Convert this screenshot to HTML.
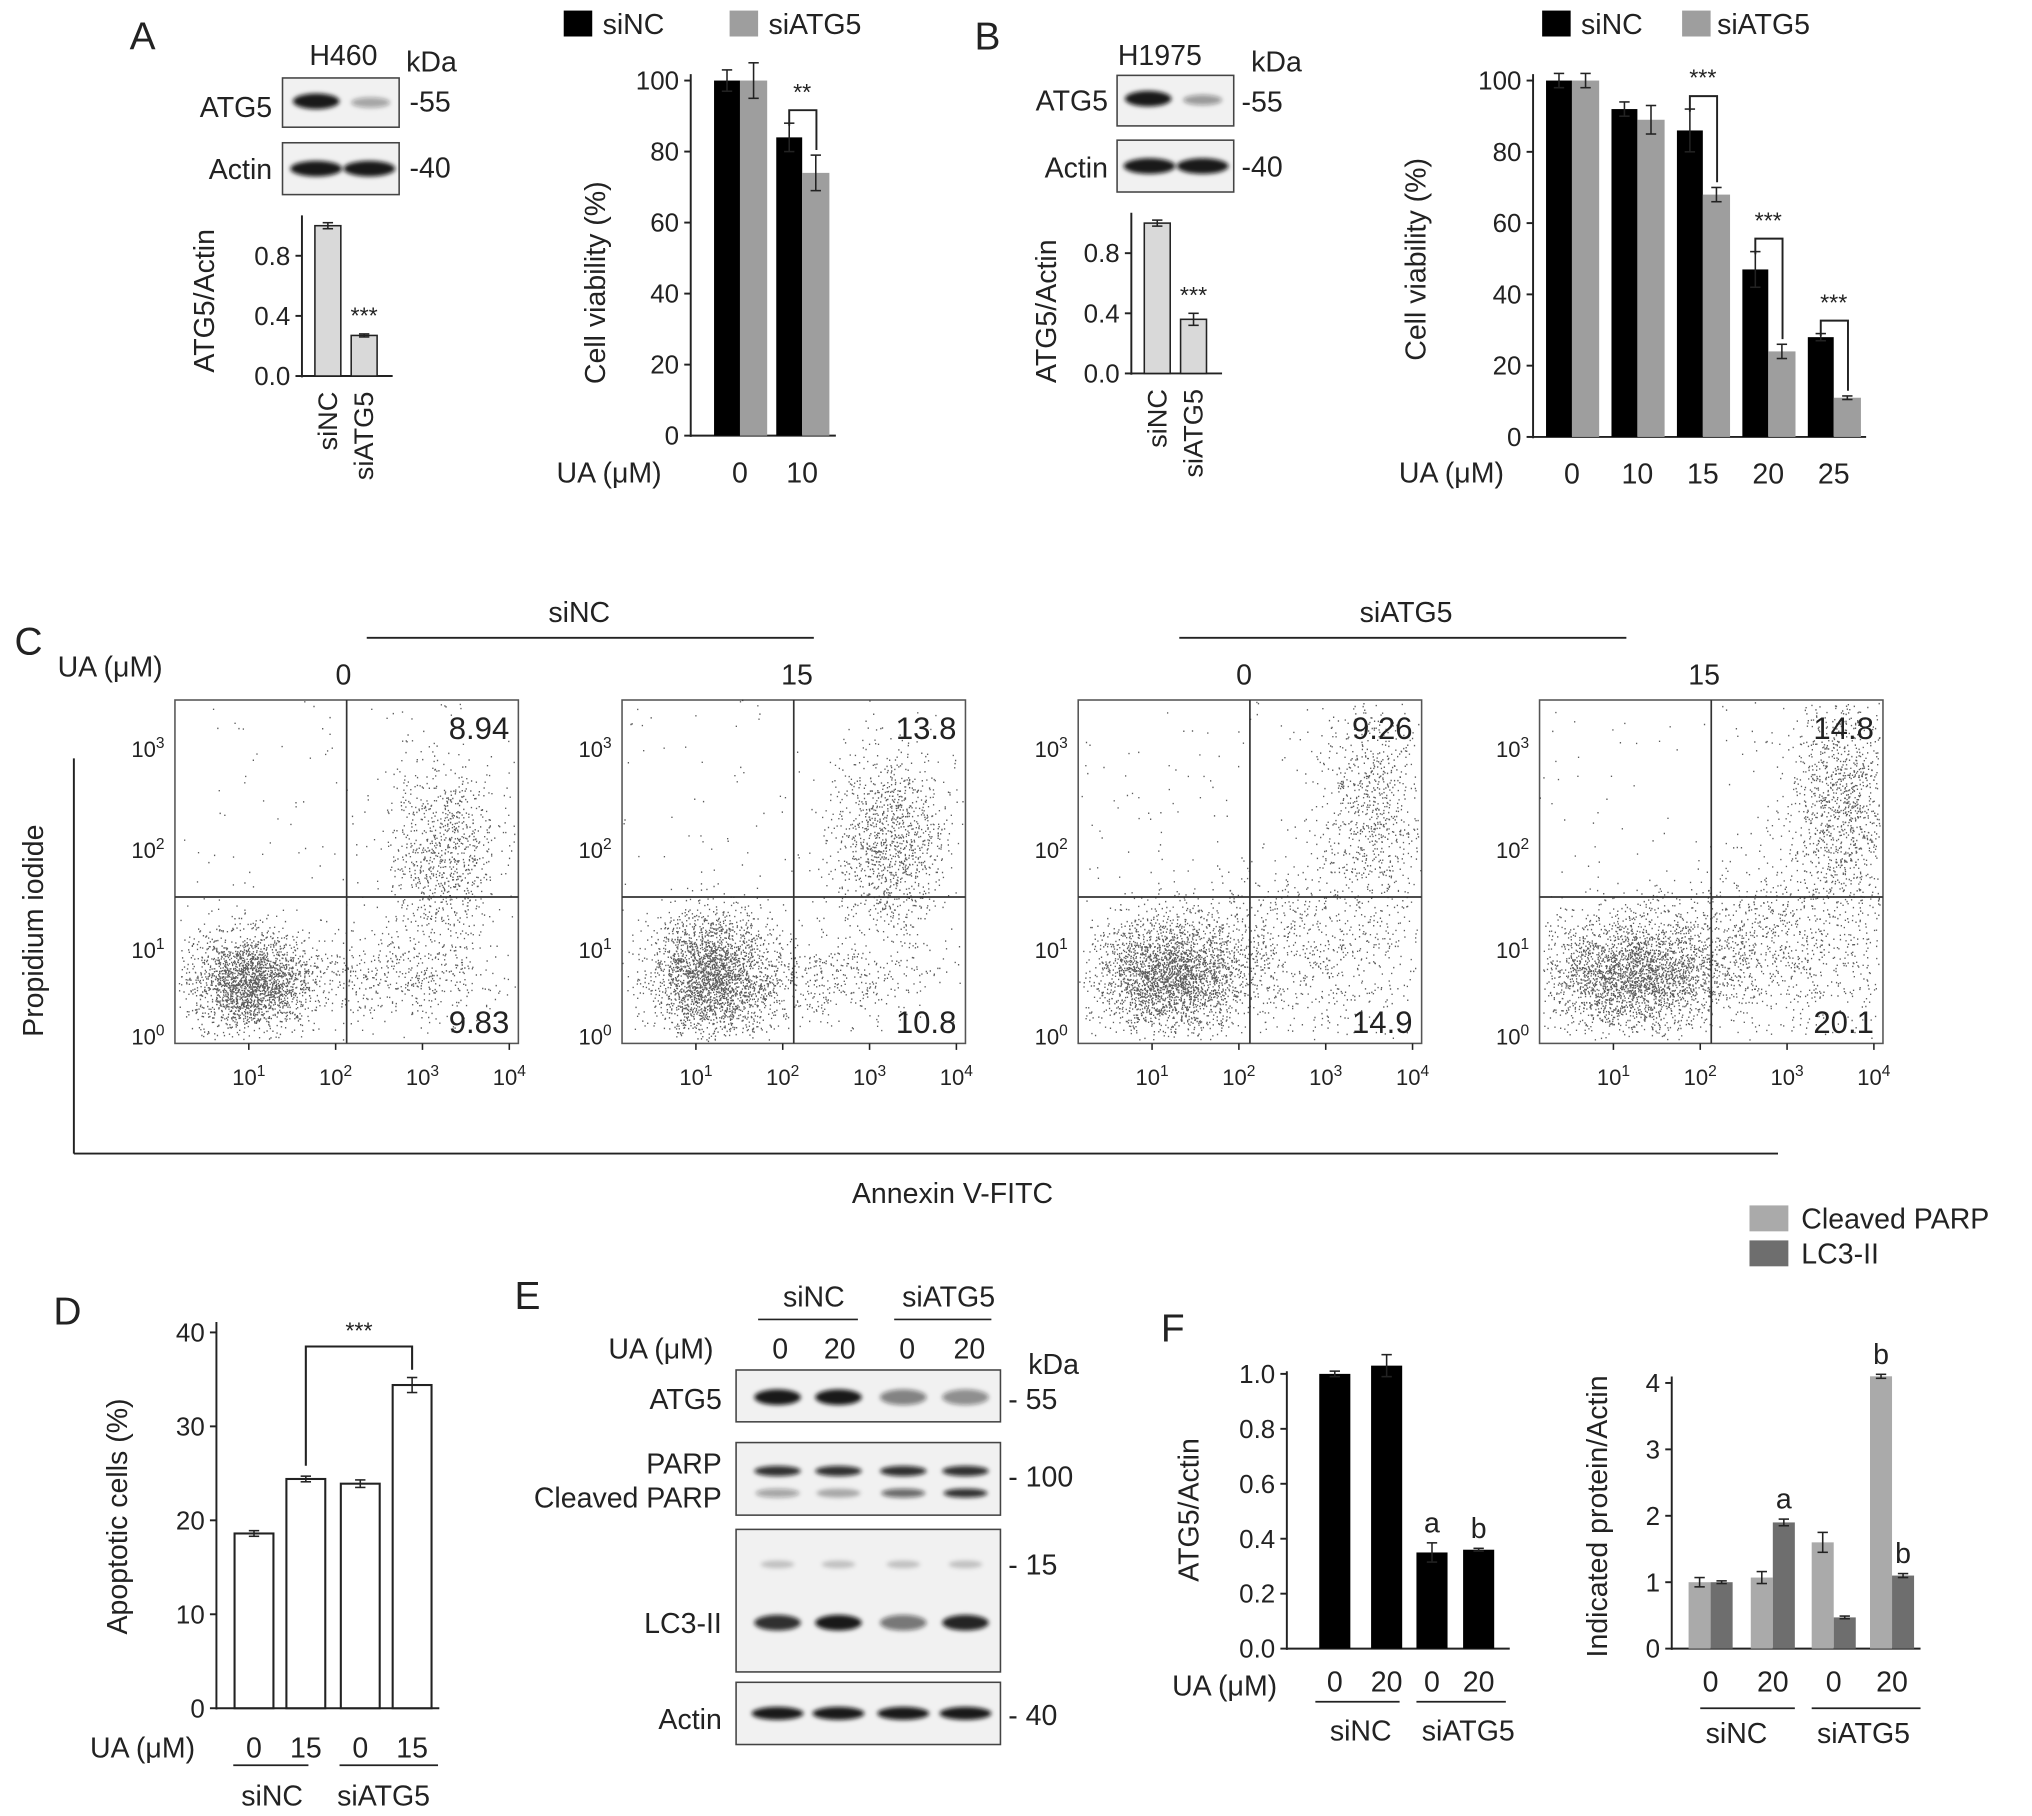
<!DOCTYPE html>
<html><head><meta charset="utf-8">
<style>
html,body{margin:0;padding:0;background:#fff;}
svg{display:block;font-family:"Liberation Sans",sans-serif;}
text{fill:#222;}
</style></head>
<body>
<svg id="fig" width="2032" height="1816" viewBox="0 0 1568 1401" xmlns="http://www.w3.org/2000/svg">
<defs><filter id="blur" x="-20%" y="-50%" width="140%" height="200%"><feGaussianBlur stdDeviation="1.6"/></filter></defs>
<g id="root"></g>
</svg>
<script>
// ---------- data ----------
const smallCats = ["siNC","siATG5"];
const smallA = [1.0, 0.27];
const smallAErr = [0.02, 0.01];
const smallB = [1.0, 0.36];
const smallBErr = [0.02, 0.04];

const vaDoses = ["0","10"];
const vaNC = [100, 84];
const vaNCErr = [3, 4];
const vaSi = [100, 74];
const vaSiErr = [5, 5];

const vbDoses = ["0","10","15","20","25"];
const vbNC = [100, 92, 86, 47, 28];
const vbNCErr = [2, 2, 6, 5, 1];
const vbSi = [100, 89, 68, 24, 11];
const vbSiErr = [2, 4, 2, 2, 0.5];

const dCats = ["0","15","0","15"];
const dVals = [18.6, 24.4, 23.9, 34.4];
const dErr = [0.3, 0.3, 0.4, 0.8];

const fCats = ["0","20","0","20"];
const fVals = [1.0, 1.03, 0.35, 0.36];
const fErr = [0.01, 0.04, 0.035, 0.005];
const fLetters = ["", "", "a", "b"];

const f2Parp = [1.0, 1.07, 1.6, 4.1];
const f2ParpErr = [0.07, 0.09, 0.15, 0.03];
const f2Lc3 = [1.0, 1.9, 0.47, 1.1];
const f2Lc3Err = [0.02, 0.05, 0.02, 0.03];
const f2ParpLetters = ["", "", "", "b"];
const f2Lc3Letters = ["", "a", "", "b"];

const flowUR = ["8.94","13.8","9.26","14.8"];
const flowLR = ["9.83","10.8","14.9","20.1"];
const flowDose = ["0","15","0","15"];
// cluster descriptors per plot (fractional coords within plot: cx, cy, sx, sy, count)
const flowLive = [[0.22,0.82,0.09,0.07,1700],[0.26,0.80,0.09,0.09,1900],[0.27,0.80,0.11,0.08,2000],[0.27,0.80,0.13,0.08,2000]];
const flowLate = [[0.78,0.45,0.08,0.14,700],[0.78,0.42,0.08,0.14,900],[0.85,0.32,0.08,0.16,600],[0.88,0.30,0.08,0.16,900]];
const flowEarly = [[0.65,0.80,0.15,0.07,350],[0.55,0.82,0.18,0.06,350],[0.60,0.72,0.22,0.12,700],[0.65,0.72,0.22,0.12,900]];

// ---------- helpers ----------
const NS="http://www.w3.org/2000/svg";
const root=document.getElementById('root');
function el(tag, attrs, parent){
  const e=document.createElementNS(NS,tag);
  for(const k in attrs) e.setAttribute(k,attrs[k]);
  (parent||root).appendChild(e); return e;
}
function txt(x,y,s,size,anchor,parent,rot){
  const t=el('text',{x:x,y:y,'font-size':size||20,'text-anchor':anchor||'middle'},parent);
  if(rot) t.setAttribute('transform',`rotate(${rot} ${x} ${y})`);
  t.textContent=s; return t;
}
function line(x1,y1,x2,y2,w,parent,c){return el('line',{x1,y1,x2,y2,stroke:c||'#222','stroke-width':w||1.5},parent);}
function errbar(x,y1,y2,parent){
  line(x,y1,x,y2,1.2,parent); line(x-4,y1,x+4,y1,1.2,parent); line(x-4,y2,x+4,y2,1.2,parent);
}
function yAxis(g,x,yScale,ticks,fmt,top){
  line(x,yScale(ticks[0])+1,x,top,1.5,g);
  ticks.forEach(t=>{const y=yScale(t);line(x-5,y,x,y,1.5,g);
    const tl=txt(x-9,y+7,fmt(t),20,'end',g);
    
    });
}
function label(x,y,s,size,anchor,name,rot){
  const t=txt(x,y,s,size,anchor,root,rot);
  
  
  return t;
}
function group(name){const g=el('g',{});return g;}

function blot(name,x,y,w,h,bands){
  const g=group(name);
  el('rect',{x,y,width:w,height:h,fill:'#f1f1f1',stroke:'#444','stroke-width':1.2},g);
  bands.forEach(b=>{
    el('ellipse',{cx:b[0],cy:b[1],rx:b[2],ry:b[3],fill:'#111','fill-opacity':b[4],filter:'url(#blur)'},g);
  });
  return g;
}

// ---------- Panel A ----------
label(110,38,'A',30,'middle','panel-label-a');
label(265,50,'H460',22,'middle','cell-line-h460');
label(333,55,'kDa',22,'middle','kda-label-a');
blot('blot-atg5-a',218,60,90,38,[[244,78,18,6,0.95],[286,79,15,4,0.35]]);
blot('blot-actin-a',218,110,90,40,[[244,130,20,6,0.95],[285,130,20,6,0.95]]);
label(210,90,'ATG5',22,'end','row-label-atg5-a');
label(210,138,'Actin',22,'end','row-label-actin-a');
label(316,86,'-55',22,'start','marker-55-a');
label(316,137,'-40',22,'start','marker-40-a');

function smallChart(name,ax,y0,vals,errs,star){
  const g=group(name);
  const ys=v=>y0-v*116;
  yAxis(g,ax,ys,[0,0.4,0.8],t=>t.toFixed(1),y0-124);
  line(ax,y0,ax+70,y0,1.5,g);
  vals.forEach((v,i)=>{
    const x=ax+10+i*28;
    const r=el('rect',{x,y:ys(v),width:20,height:y0-ys(v),fill:'#d9d9d9',stroke:'#222','stroke-width':1.2},g);
    
    
    errbar(x+10,ys(v+errs[i]),ys(v-errs[i]),g);
    const t=txt(x+17,y0+12,smallCats[i],21,'end',g,-90);
    
    
  });
  txt(ax+10+28+10,ys(vals[1]+errs[1])-8,star,18,'middle',g);
  return g;
}
smallChart('chart-atg5-actin-a',233,290,smallA,smallAErr,'***');
label(165,232,'ATG5/Actin',22,'middle','y-axis-title-small-a',-90);

function viab(name,ax,top,y0,w,doses,centers,nc,ncE,si,siE,brackets){
  const g=group(name);
  const ys=v=>y0-v*(y0-top)/100;
  yAxis(g,ax,ys,[0,20,40,60,80,100],t=>String(t),top-5);
  line(ax,y0,ax+w,y0,1.5,g);
  doses.forEach((d,i)=>{
    const c=centers(i);
    const b1=el('rect',{x:c-20,y:ys(nc[i]),width:20,height:y0-ys(nc[i]),fill:'#000'},g);
    
    const b2=el('rect',{x:c,y:ys(si[i]),width:21,height:y0-ys(si[i]),fill:'#9e9e9e'},g);
    
    errbar(c-10,ys(nc[i]+ncE[i]),ys(nc[i]-ncE[i]),g);
    errbar(c+10.5,ys(si[i]+siE[i]),ys(si[i]-siE[i]),g);
    const t=txt(c,y0+36,d,22,'middle',g);
    
    if(brackets[i]){
      const yt=ys(nc[i]+ncE[i])-6;
      const yb=ys(si[i]+siE[i])-4;
      el('polyline',{points:`${c-10},${yt+8} ${c-10},${yt-4} ${c+11},${yt-4} ${c+11},${yb}`,fill:'none',stroke:'#222','stroke-width':1.5},g);
      txt(c,yt-12,brackets[i],18,'middle',g);
    }
  });
  return g;
}
viab('chart-viability-a',533,62,336,112,vaDoses,i=>571+i*48,vaNC,vaNCErr,vaSi,vaSiErr,['','**']);
label(467,218,'Cell viability (%)',22,'middle','y-axis-title-viability-a',-90);
label(470,372,'UA (μM)',22,'middle','x-axis-title-ua-a');
el('rect',{x:435,y:8,width:22,height:20,fill:'#000'});
label(465,26,'siNC',22,'start','legend-sinc-a');
el('rect',{x:563,y:8,width:22,height:20,fill:'#9e9e9e'});
label(593,26,'siATG5',22,'start','legend-siatg5-a');

// ---------- Panel B ----------
label(762,38,'B',30,'middle','panel-label-b');
label(895,50,'H1975',22,'middle','cell-line-h1975');
label(985,55,'kDa',22,'middle','kda-label-b');
blot('blot-atg5-b',862,58,90,39,[[886,76,18,6,0.95],[928,77,15,4,0.4]]);
blot('blot-actin-b',862,108,90,40,[[887,128,20,6,0.95],[928,128,20,6,0.95]]);
label(855,85,'ATG5',22,'end','row-label-atg5-b');
label(855,137,'Actin',22,'end','row-label-actin-b');
label(958,86,'-55',22,'start','marker-55-b');
label(958,136,'-40',22,'start','marker-40-b');
smallChart('chart-atg5-actin-b',873,288,smallB,smallBErr,'***');
label(815,240,'ATG5/Actin',22,'middle','y-axis-title-small-b',-90);

viab('chart-viability-b',1183,62,337,257,vbDoses,i=>1213+i*50.5,vbNC,vbNCErr,vbSi,vbSiErr,['','','***','***','***']);
label(1100,200,'Cell viability (%)',22,'middle','y-axis-title-viability-b',-90);
label(1120,372,'UA (μM)',22,'middle','x-axis-title-ua-b');
el('rect',{x:1190,y:8,width:22,height:20,fill:'#000'});
label(1220,26,'siNC',22,'start','legend-sinc-b');
el('rect',{x:1298,y:8,width:22,height:20,fill:'#9e9e9e'});
label(1325,26,'siATG5',22,'start','legend-siatg5-b');

// ---------- Panel C ----------
label(22,505,'C',30,'middle','panel-label-c');
label(447,480,'siNC',22,'middle','group-label-sinc-c');
line(283,492,628,492,1.5);
label(1085,480,'siATG5',22,'middle','group-label-siatg5-c');
line(910,492,1255,492,1.5);
label(85,522,'UA (μM)',22,'middle','ua-label-c');
line(57,585,57,890,1.5); line(57,890,1372,890,1.5);
label(33,718,'Propidium iodide',22,'middle','y-axis-title-flow',-90);
label(735,928,'Annexin V-FITC',22,'middle','x-axis-title-flow');

let seed=12345;
function rnd(){seed=(seed*1103515245+12345)%2147483648;return seed/2147483648;}
function gauss(){let u=rnd()||1e-6,v=rnd();return Math.sqrt(-2*Math.log(u))*Math.cos(2*Math.PI*v);}
const plotX=[135,480,832,1188];
const doseX=[265,615,960,1315];
plotX.forEach((px,i)=>{
  const g=group('flow-plot-'+(i+1));
  const W=265,H=265,py=540;
  txt(doseX[i],528,flowDose[i],22,'middle',g);
  el('rect',{x:px,y:py,width:W,height:H,fill:'#fff',stroke:'#555','stroke-width':1.2},g);
  let path='';
  [flowLive[i],flowLate[i],flowEarly[i]].forEach(c=>{
    for(let k=0;k<c[4]*1.3;k++){
      let fx=c[0]+gauss()*c[2], fy=c[1]+gauss()*c[3];
      if(fx<0.01||fx>0.99||fy<0.01||fy>0.99) continue;
      const x=px+fx*W,y=py+fy*H;
      path+=`M${x.toFixed(1)} ${y.toFixed(1)}h1`;
    }
  });
  for(let k=0;k<150;k++){const x=px+rnd()*W,y=py+rnd()*H;path+=`M${x.toFixed(1)} ${y.toFixed(1)}h1`;}
  el('path',{d:path,stroke:'#333','stroke-width':1.1,'stroke-opacity':0.8,fill:'none'},g);
  const qx=px+W*0.50;
  line(qx,py,qx,py+H,1.3,g,'#333'); line(px,692,px+W,692,1.3,g,'#333');
  const ur=txt(px+W-7,py+30,flowUR[i],24,'end',g);
  
  const lr=txt(px+W-7,py+H-8,flowLR[i],24,'end',g);
  
  const yt=[[578,'3'],[656,'2'],[733,'1'],[800,'0']];
  yt.forEach(t=>{const e=txt(px-8,t[0]+6,'10',17,'end',g);const s=el('tspan',{dy:-7,'font-size':12},e);s.textContent=t[1];});
  [0,1,2,3].forEach(k=>{const x=px+57+k*67;line(x,py+H,x,py+H+5,1.2,g);
    const e=txt(x,py+H+32,'10',17,'middle',g);const s=el('tspan',{dy:-7,'font-size':12},e);s.textContent=String(k+1);});
});

// ---------- Panel D ----------
label(52,1022,'D',30,'middle','panel-label-d');
(function(){
  const g=group('chart-apoptotic-d');
  const ax=167,y0=1318,ys=v=>y0-v*7.25;
  yAxis(g,ax,ys,[0,10,20,30,40],t=>String(t),1020);
  line(ax,y0,ax+172,y0,1.5,g);
  const cx=[196,236,278,318];
  dVals.forEach((v,i)=>{
    const r=el('rect',{x:cx[i]-15,y:ys(v),width:30,height:y0-ys(v),fill:'#fff',stroke:'#222','stroke-width':1.6},g);
    
    errbar(cx[i],ys(v+dErr[i]),ys(v-dErr[i]),g);
    txt(cx[i],1356,dCats[i],22,'middle',g);
  });
  const bt=ys(38.5);
  el('polyline',{points:`${cx[1]},${ys(dVals[1]+dErr[1])-8} ${cx[1]},${bt} ${cx[3]},${bt} ${cx[3]},${ys(dVals[3]+dErr[3])-6}`,fill:'none',stroke:'#222','stroke-width':1.6},g);
  txt((cx[1]+cx[3])/2,bt-6,'***',18,'middle',g);
  line(180,1362,238,1362,1.3,g); line(262,1362,338,1362,1.3,g);
})();
label(110,1356,'UA (μM)',22,'middle','x-axis-title-ua-d');
label(210,1393,'siNC',22,'middle','group-label-sinc-d');
label(296,1393,'siATG5',22,'middle','group-label-siatg5-d');
label(98,1170,'Apoptotic cells (%)',22,'middle','y-axis-title-apoptotic',-90);

// ---------- Panel E ----------
label(407,1010,'E',30,'middle','panel-label-e');
label(628,1008,'siNC',22,'middle','group-label-sinc-e');
line(585,1018,662,1018,1.3);
label(732,1008,'siATG5',22,'middle','group-label-siatg5-e');
line(690,1018,765,1018,1.3);
label(510,1048,'UA (μM)',22,'middle','ua-label-e');
[['0',602],['20',648],['0',700],['20',748]].forEach(d=>label(d[1],1048,d[0],22,'middle','dose-label-e'));
label(813,1060,'kDa',22,'middle','kda-label-e');
const lanes=[600,647,697,745];
blot('blot-atg5-e',568,1057,204,40,lanes.map((x,i)=>[x,1078,18,6,[0.95,0.95,0.5,0.45][i]]));
blot('blot-parp-e',568,1113,204,56,lanes.map((x,i)=>[x,1135,18,4,0.85]).concat(lanes.map((x,i)=>[x,1152,17,3.5,[0.35,0.3,0.6,0.85][i]])));
blot('blot-lc3-e',568,1180,204,110,lanes.map((x,i)=>[x,1207,13,3,0.2]).concat(lanes.map((x,i)=>[x,1252,18,6,[0.85,0.95,0.55,0.9][i]])));
blot('blot-actin-e',568,1298,204,48,lanes.map(x=>[x,1322,20,5,0.95]));
label(557,1087,'ATG5',22,'end','row-label-atg5-e');
label(557,1137,'PARP',22,'end','row-label-parp-e');
label(557,1163,'Cleaved PARP',22,'end','row-label-cleaved-parp-e');
label(557,1260,'LC3-II',22,'end','row-label-lc3-e');
label(557,1334,'Actin',22,'end','row-label-actin-e');
label(778,1087,'- 55',22,'start','marker-55-e');
label(778,1147,'- 100',22,'start','marker-100-e');
label(778,1215,'- 15',22,'start','marker-15-e');
label(778,1331,'- 40',22,'start','marker-40-e');

// ---------- Panel F ----------
label(905,1035,'F',30,'middle','panel-label-f');
(function(){
  const g=group('chart-atg5-actin-f');
  const ax=993,y0=1272,ys=v=>y0-v*212;
  yAxis(g,ax,ys,[0,0.2,0.4,0.6,0.8,1.0],t=>t.toFixed(1),1058);
  line(ax,y0,ax+172,y0,1.5,g);
  const cx=[1030,1070,1105,1141];
  fVals.forEach((v,i)=>{
    const r=el('rect',{x:cx[i]-12,y:ys(v),width:24,height:y0-ys(v),fill:'#000'},g);
    
    errbar(cx[i],ys(v+fErr[i]),ys(v-fErr[i]),g);
    if(fLetters[i]) txt(cx[i],ys(v+fErr[i])-8,fLetters[i],22,'middle',g);
    txt(cx[i],1305,fCats[i],22,'middle',g);
  });
  line(1015,1313,1080,1313,1.3,g); line(1093,1313,1162,1313,1.3,g);
})();
label(945,1308,'UA (μM)',22,'middle','x-axis-title-ua-f');
label(1050,1343,'siNC',22,'middle','group-label-sinc-f');
label(1133,1343,'siATG5',22,'middle','group-label-siatg5-f');
label(925,1165,'ATG5/Actin',22,'middle','y-axis-title-f',-90);

(function(){
  const g=group('chart-indicated-protein-f');
  const ax=1290,y0=1272,ys=v=>y0-v*51.25;
  yAxis(g,ax,ys,[0,1,2,3,4],t=>String(t),1062);
  line(ax,y0,ax+192,y0,1.5,g);
  const cx=[1320,1368,1415,1460];
  f2Parp.forEach((v,i)=>{
    const r=el('rect',{x:cx[i]-17,y:ys(v),width:17,height:y0-ys(v),fill:'#aaaaaa'},g);
    
    errbar(cx[i]-8.5,ys(v+f2ParpErr[i]),ys(v-f2ParpErr[i]),g);
    if(f2ParpLetters[i]) txt(cx[i]-8.5,ys(v+f2ParpErr[i])-8,f2ParpLetters[i],22,'middle',g);
    const w=f2Lc3[i];
    const r2=el('rect',{x:cx[i],y:ys(w),width:17,height:y0-ys(w),fill:'#6e6e6e'},g);
    
    errbar(cx[i]+8.5,ys(w+f2Lc3Err[i]),ys(w-f2Lc3Err[i]),g);
    if(f2Lc3Letters[i]) txt(cx[i]+8.5,ys(w+f2Lc3Err[i])-8,f2Lc3Letters[i],22,'middle',g);
    txt(cx[i],1305,fCats[i],22,'middle',g);
  });
  line(1312,1318,1385,1318,1.3,g); line(1398,1318,1482,1318,1.3,g);
})();
label(1340,1345,'siNC',22,'middle','group-label-sinc-f2');
label(1438,1345,'siATG5',22,'middle','group-label-siatg5-f2');
label(1240,1170,'Indicated protein/Actin',22,'middle','y-axis-title-f2',-90);
el('rect',{x:1350,y:930,width:30,height:20,fill:'#aaaaaa'});
label(1390,948,'Cleaved PARP',22,'start','legend-cleaved-parp');
el('rect',{x:1350,y:957,width:30,height:20,fill:'#6e6e6e'});
label(1390,975,'LC3-II',22,'start','legend-lc3-ii');
</script>
</body></html>
